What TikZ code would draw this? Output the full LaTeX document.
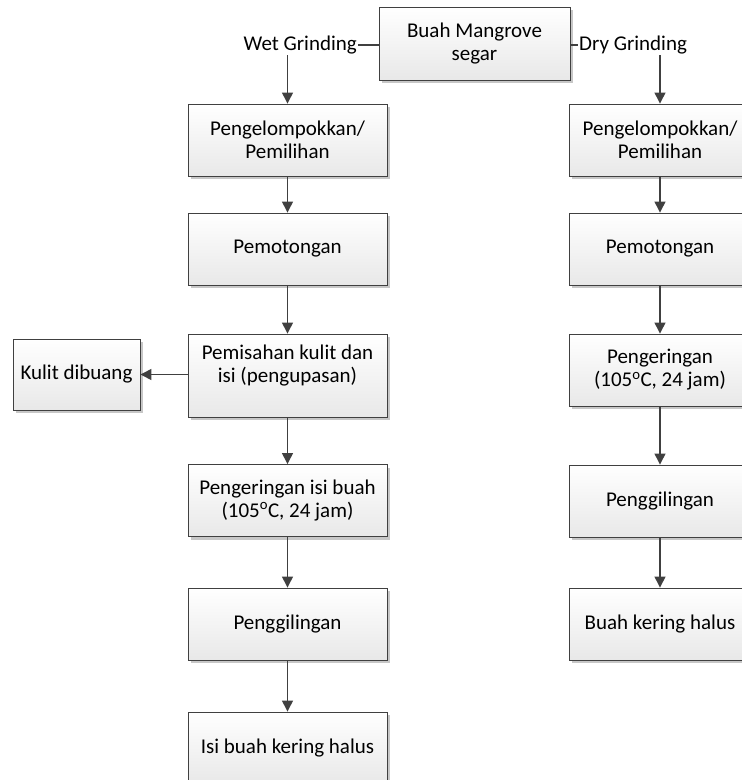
\documentclass[tikz,border=0pt]{standalone}
\usepackage{fontspec}
\setmainfont{Carlito}
\usetikzlibrary{arrows.meta,shadows}

\begin{document}
\begin{tikzpicture}[x=1pt, y=-1pt,
    proc/.style={rectangle, draw=black!75, line width=0.9pt, top color=white, bottom color=black!9,
        drop shadow={shadow xshift=3pt, shadow yshift=-3pt, fill=black!22, opacity=1},
        align=center, inner sep=2pt, minimum height=72pt, font=\fontsize{21}{23}\selectfont},
    lbl/.style={inner sep=1pt, font=\fontsize{21}{23}\selectfont},
    link/.style={draw=black!75, line width=1.3pt},
    arr/.style={link, -{Triangle[length=11pt,width=11pt]}}]
        \useasboundingbox (0,0) rectangle (742,780);
        \clip (0,0) rectangle (742,780);

        \node[proc, minimum width=191pt, minimum height=73pt] (fresh) at (474.5,43.5) {Buah Mangrove\\segar};
        \node[lbl, anchor=east] (wet) at (358,45) {Wet Grinding};
        \node[lbl, anchor=west] (dry) at (578,45) {Dry Grinding};

        \node[proc, minimum width=199pt] (w1) at (287.5,140) {Pengelompokkan/\\Pemilihan};
        \node[proc, minimum width=199pt] (w2) at (287.5,249) {Pemotongan};
        \node[proc, minimum width=199pt, minimum height=83pt] (w3) at (287.5,375.5) {Pemisahan kulit dan\\isi (pengupasan)\\\mbox{}};
        \node[proc, minimum width=199pt] (w4) at (287.5,500.5) {Pengeringan isi buah\\(105\textsuperscript{o}C, 24 jam)};
        \node[proc, minimum width=199pt] (w5) at (287.5,624) {Penggilingan};
        \node[proc, minimum width=199pt] (w6) at (287.5,748) {Isi buah kering halus};
        \node[proc, minimum width=127pt, minimum height=71pt] (skin) at (76.5,374.5) {Kulit dibuang};

        \node[proc, minimum width=182pt] (d1) at (660,140) {Pengelompokkan/\\Pemilihan};
        \node[proc, minimum width=182pt] (d2) at (660,249) {Pemotongan};
        \node[proc, minimum width=182pt] (d3) at (660,370) {Pengeringan\\(105\textsuperscript{o}C, 24 jam)};
        \node[proc, minimum width=182pt] (d4) at (660,501) {Penggilingan};
        \node[proc, minimum width=182pt] (d5) at (660,624) {Buah kering halus};

        \draw[link] (fresh.west |- wet) -- (wet.east);
        \draw[link] (fresh.east |- dry) -- (dry.west);
        \draw[arr] (wet.south -| w1) -- (w1);
        \draw[arr] (dry.south -| d1) -- (d1);
        %% wet grinding
        \draw[arr] (w1) -- (w2);
        \draw[arr] (w2) -- (w3);
        \draw[arr] (w3) -- (w4);
        \draw[arr] (w4) -- (w5);
        \draw[arr] (w5) -- (w6);
        \draw[arr] (w3.west |- skin) -- (skin);
        %% dry grinding
        \draw[arr] (d1) -- (d2);
        \draw[arr] (d2) -- (d3);
        \draw[arr] (d3) -- (d4);
        \draw[arr] (d4) -- (d5);
    \end{tikzpicture}
\end{document}
